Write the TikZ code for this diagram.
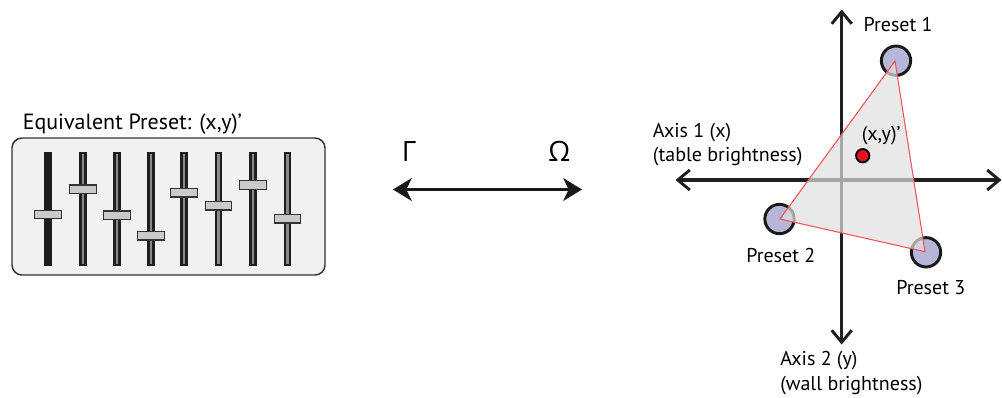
\documentclass[tikz,border=0pt]{standalone}
\usepackage{fontspec}
\setmainfont{PT Sans}
\newfontfamily\grk{Open Sans}
\usetikzlibrary{arrows.meta}
\definecolor{boxfill}{HTML}{F1F1F1}
\definecolor{boxline}{HTML}{333333}
\definecolor{trackc}{HTML}{1E1E1E}
\definecolor{stripe}{HTML}{8A8A8A}
\definecolor{knobc}{HTML}{CACACA}
\definecolor{lav}{HTML}{B6B6D8}
\definecolor{tri}{HTML}{E0E0E0}
\definecolor{triedge}{HTML}{F2545B}
\definecolor{dotred}{HTML}{E3141C}
\tikzset{
  lbl/.style={anchor=base west,inner sep=0pt,font=\fontsize{15}{18}\selectfont},
  biglbl/.style={anchor=base west,inner sep=0pt,font=\fontsize{16.5}{19}\selectfont},
  greek/.style={anchor=base west,inner sep=0pt,font=\grk\fontsize{21}{24}\selectfont},
  axis/.style={line width=2.3pt,black!88,-{Straight Barb[length=9pt,width=15pt,line width=2.2pt]},line cap=butt},
  preset/.style={circle,draw=black!90,fill=lav,line width=2.2pt,minimum size=22pt,inner sep=0pt},
  track/.style={fill=trackc,draw=none},
  knob/.style={fill=knobc,draw=boxline,line width=0.8pt}
}
\begin{document}
\begin{tikzpicture}[x=0.75pt,y=-0.75pt]
\path[use as bounding box] (0,0) rectangle (1002,397);
% ---------- left: equalizer box ----------
\node[biglbl] (eqlbl) at (22.5,129.3) {Equivalent Preset: (x,y)’};
\draw[fill=boxfill,draw=boxline,line width=1.1pt,rounded corners=7.5pt] (12,138) rectangle (325,275);
\foreach \i/\x/\y/\s in {1/48/214.5/0,2/83/189.3/1,3/117/215.3/1,4/151/235.7/1,5/184/192.7/1,6/218.5/205.7/1,7/253/185/1,8/287.5/218.7/1}{
  \fill[track] (\x-3.6,151.7) rectangle (\x+3.6,265.7);
  \ifnum\s=1
    \fill[stripe] (\x-1.3,154) rectangle (\x+1.3,263.5);
  \fi
  \draw[knob] (\x-13.3,\y-4.3) rectangle (\x+13.3,\y+4.3);
}
% ---------- middle ----------
\node[greek] (gam) at (401.5,161.7) {Γ};
\node[greek] (ome) at (548,161.7) {Ω};
\coordinate (al) at (393,189.5);
\coordinate (ar) at (582,189.5);
\draw[line width=2.4pt,black!90,{Stealth[length=14pt,width=17pt,inset=4pt]}-{Stealth[length=14pt,width=17pt,inset=4pt]}] (al) -- (ar);
% ---------- right: axes ----------
\coordinate (o) at (841.7,180);
\coordinate (xl) at (675.5,180);
\coordinate (xr) at (1001.5,180);
\coordinate (yt) at (841.7,9.5);
\coordinate (yb) at (841.7,344.5);
\draw[axis] (o) -- (xl);
\draw[axis] (o) -- (xr);
\draw[axis] (o) -- (yt);
\draw[axis] (o) -- (yb);
\node[preset] (p1) at (896,60.7) {};
\node[preset] (p2) at (779.5,219) {};
\node[preset] (p3) at (926,252.3) {};
\coordinate (t1) at (895,61);
\coordinate (t2) at (780,219);
\coordinate (t3) at (925,251.7);
\fill[tri,fill opacity=0.7] (t1) -- (t2) -- (t3) -- cycle;
\draw[triedge,line width=0.8pt,line join=miter] (t1) -- (t2) -- (t3) -- cycle;
\node[circle,fill=dotred,draw=black,line width=1.4pt,minimum size=10pt,inner sep=0pt] (dot) at (862.7,155.7) {};
% labels
\node[lbl] (l1) at (863.3,31.7) {Preset 1};
\node[lbl] (l2) at (746,262.3) {Preset 2};
\node[lbl] (l3) at (896,294) {Preset 3};
\node[lbl] (lxy) at (861.5,140) {(x,y)’};
\node[lbl] (ax1) at (652.7,137.3) {Axis 1 (x)};
\node[lbl] (ax1b) at (652.7,161.7) {(table brightness)};
\node[lbl] (ax2) at (780,365.7) {Axis 2 (y)};
\node[lbl] (ax2b) at (780,390) {(wall brightness)};
\end{tikzpicture}
\end{document}
